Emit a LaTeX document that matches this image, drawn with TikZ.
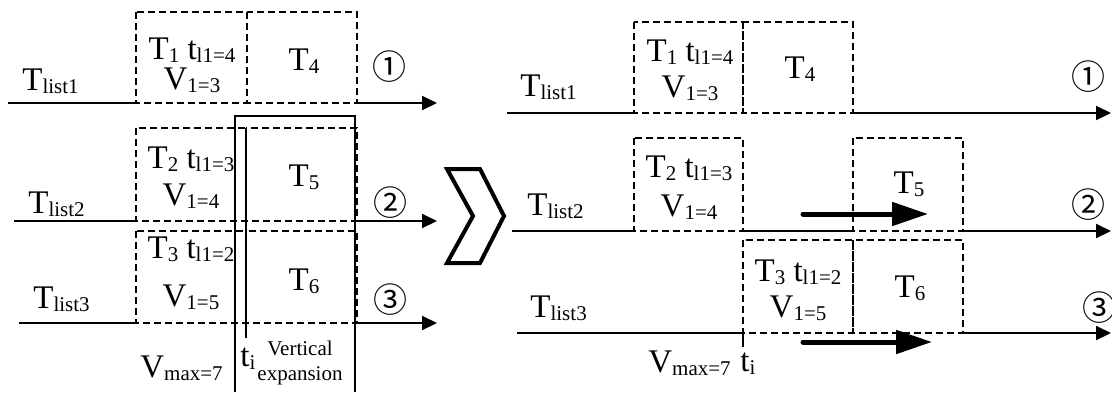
\documentclass[tikz,border=0pt]{standalone}
\usepackage{fontspec}
\setmainfont{Liberation Serif}
\newfontfamily\circfont{Noto Sans CJK SC}
\usetikzlibrary{arrows.meta}
\newcommand{\lo}[1]{\raisebox{-1.5pt}[0pt][0pt]{\fontsize{10.5}{11}\selectfont #1}}

\begin{document}
\begin{tikzpicture}[x=.5pt,y=-.5pt,line join=miter,
  font=\fontsize{16.5}{18}\selectfont,
  axis/.style={line width=1pt},
  axisend/.style={line width=1pt,-{Triangle[length=7.5pt,width=7pt]}},
  taskbox/.style={line width=.9pt,dash pattern=on 3.5pt off 2pt},
  lbl/.style={anchor=base,inner sep=0pt},
  lbw/.style={anchor=base west,inner sep=0pt},
  num/.style={font=\circfont\fontsize{17}{17}\selectfont,inner sep=0pt},
  small/.style={anchor=base,inner sep=0pt,font=\fontsize{10.5}{12}\selectfont},
  movearrow/.style={line width=2.5pt,line cap=round,-{Triangle[length=18pt,width=11.5pt]}}]
\useasboundingbox (0,0) rectangle (1112,392);

% left: before vertical expansion
\draw[taskbox] (136,12) rectangle (247,103);
\draw[taskbox] (247,12) rectangle (357,103);
\draw[taskbox] (136,128) rectangle (246,221);
\draw[taskbox] (246,128) rectangle (357,221);
\draw[taskbox] (136,231) rectangle (246,323);
\draw[taskbox] (246,231) rectangle (357,323);

\draw[axis] (8,103) -- (136,103);
\draw[axisend] (357,103) -- (437,103);
\draw[axis] (14,221) -- (136,221);
\draw[axisend] (357,221) -- (437,221);
\draw[axis] (19,323) -- (136,323);
\draw[axisend] (357,323) -- (437,323);

\draw[line width=1pt] (246,128) -- (246,338);
\draw[line width=1.3pt] (235,392) -- (235,116) -- (355,116) -- (355,392);

\node[lbw] (ll1) at (22,90) {T\lo{list1}};
\node[lbw] (ll2) at (28,213) {T\lo{list2}};
\node[lbw] (ll3) at (33,308) {T\lo{list3}};

\node[lbl] (lt1) at (192,59) {T\lo{1} t\lo{l1=4}};
\node[lbl] (lv1) at (192,89) {V\lo{1=3}};
\node[lbl] (lt2) at (191,168) {T\lo{2} t\lo{l1=3}};
\node[lbl] (lv2) at (191,205) {V\lo{1=4}};
\node[lbl] (lt3) at (191,258) {T\lo{3} t\lo{l1=2}};
\node[lbl] (lv3) at (191,306) {V\lo{1=5}};
\node[lbl] (lt4) at (304,70) {T\lo{4}};
\node[lbl] (lt5) at (304,186) {T\lo{5}};
\node[lbl] (lt6) at (304,290) {T\lo{6}};

\node[num] (ln1) at (389,67) {①};
\node[num] (ln2) at (390,203) {②};
\node[num] (ln3) at (390,300) {③};

\node[lbw] (lvmax) at (140,377) {V\lo{max=7}};
\node[lbw] (lti) at (240,366) {t\lo{i}};
\node[small] (vert) at (300,355) {Vertical};
\node[small] (expa) at (300,380) {expansion};

% chevron
\draw[line width=2pt] (447,169) -- (480,169) -- (504,216) -- (480,263)
  -- (447,263) -- (473,216) -- cycle;

% right: after vertical expansion
\draw[taskbox] (634,22) rectangle (743,113);
\draw[taskbox] (743,22) rectangle (853,113);
\draw[taskbox] (634,138) rectangle (743,231);
\draw[taskbox] (853,138) rectangle (963,231);
\draw[taskbox] (743,240) rectangle (853,333);
\draw[taskbox] (853,240) rectangle (963,333);

\draw[axis] (507,113) -- (634,113);
\draw[axisend] (853,113) -- (1111,113);
\draw[axis] (512,231) -- (634,231);
\draw[axis] (743,231) -- (853,231);
\draw[axisend] (963,231) -- (1111,231);
\draw[axis] (517,333) -- (743,333);
\draw[axisend] (963,333) -- (1111,333);
\draw[line width=1pt] (743,333) -- (743,347);

\draw[movearrow] (803,214) -- (928,214);
\draw[movearrow] (803,342) -- (932,342);

\node[lbw] (rl1) at (520,96) {T\lo{list1}};
\node[lbw] (rl2) at (527,215) {T\lo{list2}};
\node[lbw] (rl3) at (530,317) {T\lo{list3}};

\node[lbl] (rt1) at (690,61) {T\lo{1} t\lo{l1=4}};
\node[lbl] (rv1) at (690,97) {V\lo{1=3}};
\node[lbl] (rt2) at (689,177) {T\lo{2} t\lo{l1=3}};
\node[lbl] (rv2) at (689,216) {V\lo{1=4}};
\node[lbl] (rt3) at (798,281) {T\lo{3} t\lo{l1=2}};
\node[lbl] (rv3) at (798,317) {V\lo{1=5}};
\node[lbl] (rt4) at (800,78) {T\lo{4}};
\node[lbl] (rt5) at (909,193) {T\lo{5}};
\node[lbl] (rt6) at (910,297) {T\lo{6}};

\node[num] (rn1) at (1088,77) {①};
\node[num] (rn2) at (1088,205) {②};
\node[num] (rn3) at (1099,308) {③};

\node[lbw] (rvmax) at (648,372) {V\lo{max=7}};
\node[lbw] (rti) at (740,371) {t\lo{i}};
\end{tikzpicture}
\end{document}
